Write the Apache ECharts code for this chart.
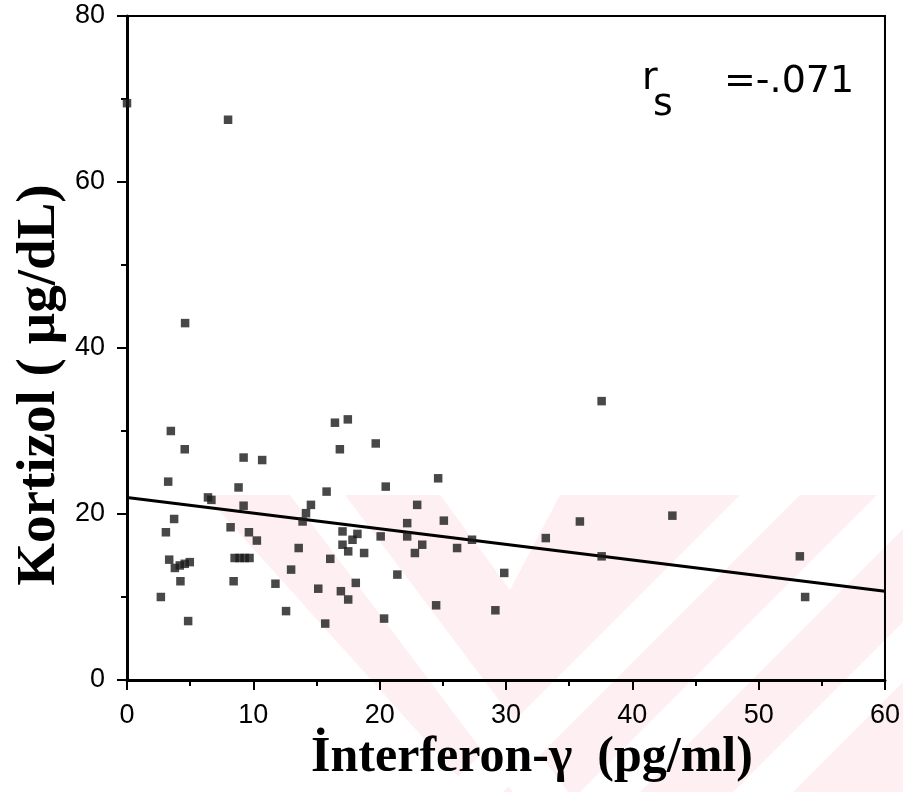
<!DOCTYPE html>
<html>
<head>
<meta charset="utf-8">
<script src="https://cdn.jsdelivr.net/npm/echarts@6/dist/echarts.min.js"></script>
<style>
html,body{margin:0;padding:0;background:#fff;}
#chart{width:903px;height:792px;}
</style>
</head>
<body>
<div id="chart"></div>
<script>
// Interferon-γ (pg/ml)
var ifnX = [0, 8.0, 4.6, 3.47, 4.57, 9.23, 10.7, 3.26, 8.83, 6.41, 6.68, 9.23, 14.56, 14.17, 13.9, 3.73, 3.08, 8.2, 9.65, 10.28,
  13.59, 3.34, 3.79, 4.18, 4.57, 4.97, 8.52, 8.91, 9.31, 9.7, 4.23, 8.44, 12.99, 11.75, 15.14, 2.68, 12.59, 4.84,
  16.46, 17.48, 16.85, 19.69, 24.63, 15.8, 20.48, 22.97, 25.08, 22.18, 17.06, 18.24, 17.85, 20.08, 22.18, 27.31,
  23.37, 22.79, 17.06, 17.51, 18.77, 26.13, 16.09, 16.93, 17.51, 18.11, 21.4, 15.69, 20.35, 24.47, 29.16,
  37.57, 35.85, 33.15, 43.17, 29.86, 37.57, 53.26, 53.68];
// Kortizol (µg/dL)
var kortY = [69.5, 67.5, 43.0, 30.0, 27.8, 26.8, 26.5, 23.9, 23.2, 22.0, 21.7, 21.0, 21.1, 20.1, 19.1, 19.4, 17.8, 18.4, 17.8, 16.8,
  15.9, 14.5, 13.5, 13.8, 14.0, 14.2, 14.7, 14.7, 14.7, 14.7, 11.9, 11.9, 13.3, 11.6, 11.0, 10.0, 8.3, 7.1,
  31.0, 31.4, 27.8, 28.5, 24.3, 22.7, 23.3, 21.1, 19.2, 18.9, 17.9, 17.6, 16.9, 17.3, 17.3, 16.9,
  16.3, 15.3, 16.3, 15.5, 15.3, 15.9, 14.6, 10.7, 9.7, 11.7, 12.7, 6.8, 7.4, 9.0, 8.4,
  33.6, 19.1, 17.1, 19.8, 12.9, 14.9, 14.9, 10.0];
// regression line end points
var fitX = [0, 60];
var fitY = [22.0, 10.7];
var xTicks = [0, 10, 20, 30, 40, 50, 60];
var yTicks = [0, 20, 40, 60, 80];

var points = ifnX.map(function (v, i) { return [v, kortY[i]]; });
var fit = fitX.map(function (v, i) { return [v, fitY[i]]; });

var pink = '#fdeff2';
function poly(pts, fill, z) {
  return { type: 'polygon', z: z, silent: true, shape: { points: pts }, style: { fill: fill } };
}

var chart = echarts.init(document.getElementById('chart'), null, { renderer: 'canvas' });
chart.setOption({
  animation: false,
  backgroundColor: '#fff',
  grid: { left: 127, right: 15, top: 16, bottom: 112, show: true, borderColor: '#000', borderWidth: 2, backgroundColor: 'transparent' },
  xAxis: {
    type: 'value', min: xTicks[0], max: xTicks[xTicks.length - 1], interval: 10,
    axisLine: { show: true, lineStyle: { color: '#000', width: 3 } },
    axisTick: { show: true, length: 10, lineStyle: { color: '#000', width: 2 } },
    minorTick: { show: true, splitNumber: 2, length: 6, lineStyle: { color: '#000', width: 2 } },
    splitLine: { show: false },
    axisLabel: { color: '#000', fontSize: 27, fontFamily: 'Liberation Sans', margin: 22 }
  },
  yAxis: {
    type: 'value', min: yTicks[0], max: yTicks[yTicks.length - 1], interval: 20,
    axisLine: { show: true, lineStyle: { color: '#000', width: 3 } },
    axisTick: { show: true, length: 10, lineStyle: { color: '#000', width: 2 } },
    minorTick: { show: true, splitNumber: 2, length: 6, lineStyle: { color: '#000', width: 2 } },
    splitLine: { show: false },
    axisLabel: { color: '#000', fontSize: 27, fontFamily: 'Liberation Sans', margin: 22 }
  },
  graphic: [
    poly([[205, 495], [903, 495], [903, 792], [472, 792]], pink, -10),
    poly([[290, 495], [345, 495], [568, 792], [513, 792]], '#fff', -9),
    poly([[440, 495], [560, 495], [510, 590]], '#fff', -9),
    poly([[740, 495], [800, 495], [503, 792], [443, 792]], '#fff', -9),
    poly([[877, 495], [937, 495], [640, 792], [580, 792]], '#fff', -9),
    poly([[1030, 495], [1090, 495], [793, 792], [733, 792]], '#fff', -9),
    {
      type: 'text', z: 100, x: 532, y: 758,
      style: { text: 'İnterferon-γ  (pg/ml)', font: 'bold 50px "Liberation Serif"', fill: '#000', align: 'center', verticalAlign: 'middle' }
    },
    {
      type: 'text', z: 100, x: 40, y: 385, rotation: Math.PI / 2,
      style: { text: 'Kortizol ( µg/dL)', font: 'bold 55px "Liberation Serif"', fill: '#000', align: 'center', verticalAlign: 'middle' }
    },
    {
      type: 'text', z: 100, x: 642, y: 60,
      style: { text: 'r', font: '38px "DejaVu Sans"', fill: '#000', align: 'left', verticalAlign: 'alphabetic' }
    },
    {
      type: 'text', z: 100, x: 653, y: 86,
      style: { text: 's', font: '38px "DejaVu Sans"', fill: '#000', align: 'left', verticalAlign: 'alphabetic' }
    },
    {
      type: 'text', z: 100, x: 724, y: 63,
      style: { text: '=-.071', font: '38px "DejaVu Sans"', fill: '#000', align: 'left', verticalAlign: 'alphabetic' }
    }
  ],
  series: [
    {
      type: 'line', data: fit, symbol: 'none', z: 3,
      lineStyle: { color: '#000', width: 3 }
    },
    {
      type: 'scatter', data: points, symbol: 'rect', symbolSize: 8.5, z: 4,
      itemStyle: { color: '#1a1a1a' }
    }
  ]
});
</script>
</body>
</html>
